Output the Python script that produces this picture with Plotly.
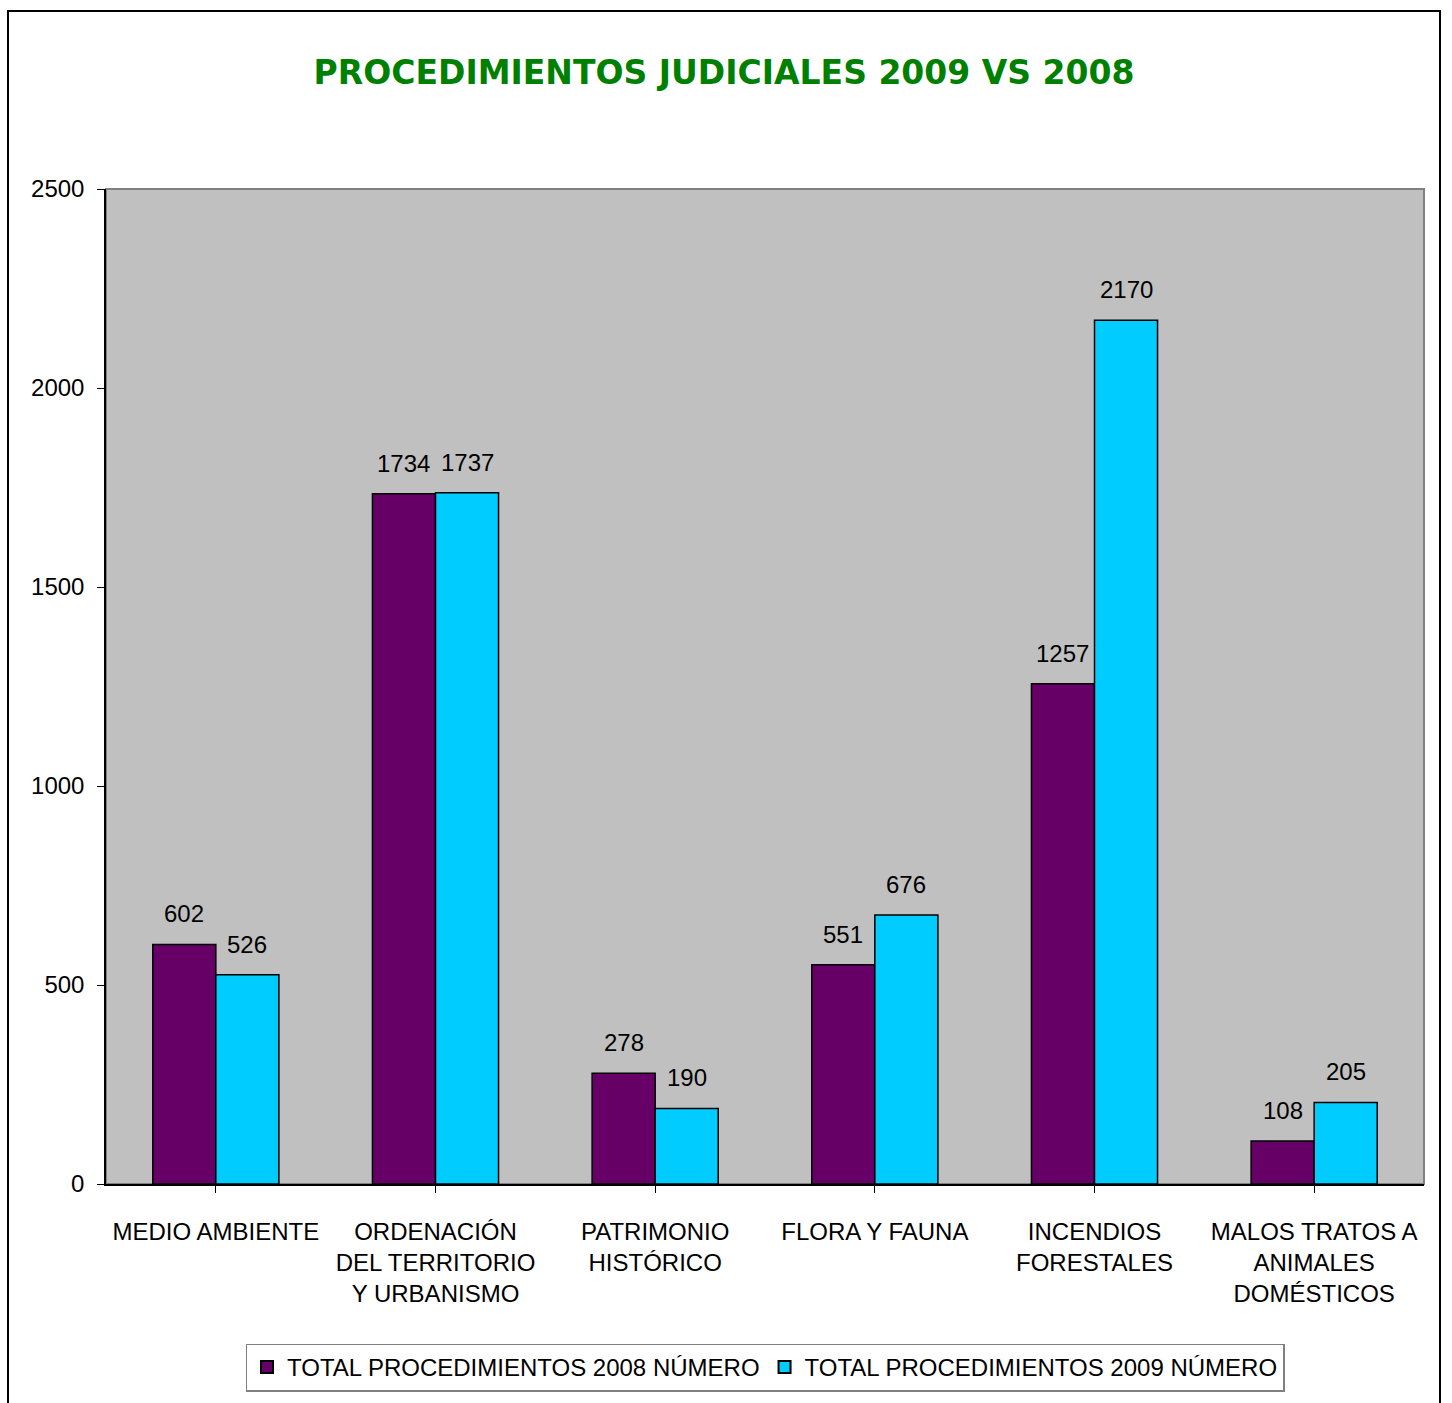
import plotly.graph_objects as go

categories = ["MEDIO AMBIENTE", "ORDENACIÓN<br>DEL TERRITORIO<br>Y URBANISMO", "PATRIMONIO<br>HISTÓRICO",
              "FLORA Y FAUNA", "INCENDIOS<br>FORESTALES", "MALOS TRATOS A<br>ANIMALES<br>DOMÉSTICOS"]
values_2008 = [602, 1734, 278, 551, 1257, 108]
values_2009 = [526, 1737, 190, 676, 2170, 205]
series_names = ["TOTAL PROCEDIMIENTOS 2008 NÚMERO", "TOTAL PROCEDIMIENTOS 2009 NÚMERO"]
colors = ["#660066", "#00CCFF"]
y_ticks = [0, 500, 1000, 1500, 2000, 2500]

FONT = "Liberation Sans, Arial, sans-serif"
W, H = 1452, 1403
VS = 1.007  # vertical compensation for capture


def vy(py):
    return py * VS


L, T = 106, round(vy(188))
R = W - 1424
B = round(H - vy(1193))
pw, ph = W - L - R, H - T - B

fig = go.Figure()
for name, vals, col in zip(series_names, [values_2008, values_2009], colors):
    fig.add_trace(go.Bar(x=list(range(len(categories))), y=vals, name=name,
                         marker=dict(color=col, line=dict(color="black", width=1.5))))

cat_w = pw / len(categories)
bar_w = cat_w * (1 - 0.426) / 2
for i in range(len(categories)):
    for s, vals in enumerate([values_2008, values_2009]):
        fig.add_annotation(x=i, y=vals[i], xref="x", yref="y", text=str(vals[i]),
                           showarrow=False, yanchor="bottom", yshift=15,
                           xshift=(s - 0.5) * bar_w,
                           font=dict(family=FONT, size=24, color="black"))


def px_to_paper(px):
    return (px - L) / pw


def py_to_paper(py):
    return (H - B - vy(py)) / ph


# outer border (bottom edge lies outside the visible page, as in the original)
fig.add_shape(type="rect", xref="paper", yref="paper",
              x0=px_to_paper(8), x1=px_to_paper(1440),
              y0=py_to_paper(1420), y1=py_to_paper(8),
              line=dict(color="black", width=2), layer="below")
# plot area border (gray top/right)
fig.add_shape(type="rect", xref="paper", yref="paper", x0=0, x1=1, y0=0, y1=1,
              line=dict(color="#808080", width=2), layer="below")

fig.update_layout(
    width=W, height=H,
    margin=dict(l=L, r=R, t=T, b=B),
    paper_bgcolor="white", plot_bgcolor="#C0C0C0",
    barmode="group", bargap=0.426, bargroupgap=0,
    title=dict(text="<b>PROCEDIMIENTOS JUDICIALES 2009 VS 2008</b>",
               x=(8 + 1440) / 2 / W, xanchor="center", xref="container",
               y=1 - vy(72) / H, yanchor="middle", yref="container",
               font=dict(family="DejaVu Sans, sans-serif", size=33, color="#008000")),
    font=dict(family=FONT, size=24, color="black"),
    showlegend=True,
    legend=dict(orientation="h", x=0.5, xanchor="center",
                y=py_to_paper(1378), yanchor="middle",
                bordercolor="#808080", borderwidth=1.5, bgcolor="white",
                font=dict(family=FONT, size=24, color="black"),
                itemsizing="constant", itemwidth=30, tracegroupgap=0),
    xaxis=dict(tickmode="array", tickvals=list(range(len(categories))), ticktext=categories,
               range=[-0.5, len(categories) - 0.5], tickson="boundaries",
               ticks="outside", ticklen=7, tickcolor="black", tickwidth=1,
               showline=True, linecolor="black", linewidth=1.5, showgrid=False,
               tickangle=0, zeroline=False, ticklabelstandoff=18,
               tickfont=dict(family=FONT, size=24, color="black")),
    yaxis=dict(range=[0, 2500], tickvals=y_ticks, ticks="outside", ticklen=7,
               tickcolor="black", tickwidth=1, showline=True, linecolor="black",
               linewidth=1.5, showgrid=False, zeroline=False, ticklabelstandoff=8,
               tickfont=dict(family=FONT, size=24, color="black")),
)

fig.write_html("out.html", config={"displayModeBar": False},
               post_script="document.body.style.margin='0px';document.body.style.overflow='hidden';")
